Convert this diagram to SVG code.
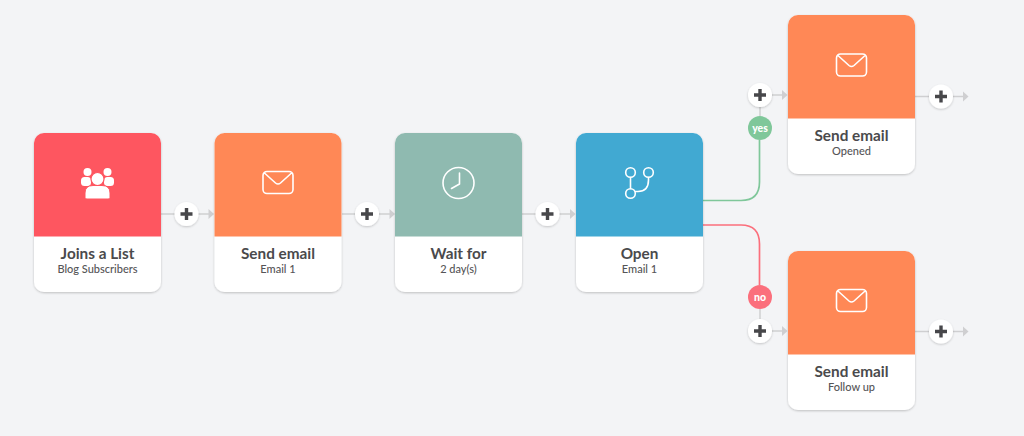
<svg xmlns="http://www.w3.org/2000/svg" width="1024" height="436" viewBox="0 0 1024 436">
<style>
.bg{fill:#f3f4f6}
.card{fill:#fff;filter:url(#sh)}
.t{font-family:Lato,"Liberation Sans",sans-serif;text-anchor:middle;fill:#4a4a4c}
.title{font-size:15.300px;font-weight:700}
.sub{font-size:11px;font-weight:500;fill:#555557}
.ic{fill:none;stroke:#fff;stroke-width:1.600;stroke-linecap:round;stroke-linejoin:round}
.lnk{fill:none;stroke:#cfcfd1;stroke-width:1.500}
.pc{fill:#fff;filter:url(#sh2)}
.pl{stroke:#47474a;stroke-width:3.400;fill:none}
.badge{font-family:Lato,"Liberation Sans",sans-serif;font-size:10.500px;font-weight:900;fill:#fff;text-anchor:middle}
</style>
<defs>
<filter id="sh" x="-10%" y="-10%" width="120%" height="120%"><feDropShadow dx="0" dy="1" stdDeviation="1.300" flood-color="#000" flood-opacity=".22"/></filter>
<filter id="sh2" x="-30%" y="-30%" width="160%" height="160%"><feDropShadow dx="0" dy="1" stdDeviation="1.300" flood-color="#000" flood-opacity=".2"/></filter>
<path id="top" d="M0 103.500V10A10 10 0 0 1 10 0H117A10 10 0 0 1 127 10V103.500Z"/>
<path id="env" class="ic" d="M5 0H27A4 4 0 0 1 31 4V18A4 4 0 0 1 27 22H5A4 4 0 0 1 1 18V4A4 4 0 0 1 5 0ZM3 2L13.500 11.500Q16 13.500 18.500 11.500L29 2"/>
<g id="plus"><circle class="pc" r="12"/><path class="pl" d="M-6 0H6M0-6V6"/></g>
<path id="head" fill="#cfcfd1" d="M0-5L5.500 0L0 5Z"/>
</defs>
<rect class="bg" width="1024" height="436"/>
<g id="connectors">
<path class="lnk" d="M161 214H210M342 214H391M522 214H572M772 95H783M760 107V116M760 309V319M915 96.500H964M915 331.500H964M772 331H783"/>
<use href="#head" x="208.500" y="214"/><use href="#head" x="389.500" y="214"/><use href="#head" x="570" y="214"/>
<use href="#head" x="782" y="95"/><use href="#head" x="963" y="96.500"/><use href="#head" x="782" y="331"/><use href="#head" x="963" y="331.500"/>
<path fill="none" stroke="#7fc79a" stroke-width="1.700" d="M703 200.500H741Q759.500 200.500 759.500 182V140"/>
<path fill="none" stroke="#fb6f7c" stroke-width="1.700" d="M703 225H741Q759.500 225 759.500 244V285"/>
</g>
<g id="node-list">
<rect class="card" x="34" y="133" width="127" height="159" rx="10"/>
<use href="#top" x="34" y="133" fill="#fe5660"/>
<g fill="#fff"><circle cx="87.500" cy="172" r="4"/><circle cx="107.500" cy="172" r="4"/><rect x="81" y="177" width="10" height="9" rx="3.500"/><rect x="104" y="177" width="10" height="9" rx="3.500"/>
<circle cx="97.500" cy="179" r="6.500" stroke="#fe5660" stroke-width="1.200"/><path stroke="#fe5660" stroke-width="1" d="M85 198V193Q85 185.500 93 185.500H102Q110 185.500 110 193V198Q110 199 108 199H87Q85 199 85 198Z"/></g>
<text class="t title" x="97.500" y="259">Joins a List</text><text class="t sub" x="97.500" y="273">Blog Subscribers</text>
</g>
<g id="node-email1">
<rect class="card" x="214.500" y="133" width="127" height="159" rx="10"/>
<use href="#top" x="214.500" y="133" fill="#ff8856"/>
<use href="#env" x="262" y="171.500"/>
<text class="t title" x="278" y="259">Send email</text><text class="t sub" x="278" y="273">Email 1</text>
</g>
<g id="node-wait">
<rect class="card" x="395" y="133" width="127" height="159" rx="10"/>
<use href="#top" x="395" y="133" fill="#8fbab0"/>
<g class="ic"><circle cx="458.500" cy="183" r="15.500"/><path d="M459.500 173V184L451.500 188.500"/></g>
<text class="t title" x="458.500" y="259">Wait for</text><text class="t sub" x="458.500" y="273">2 day(s)</text>
</g>
<g id="node-open">
<rect class="card" x="576" y="133" width="127" height="159" rx="10"/>
<use href="#top" x="576" y="133" fill="#41a9d2"/>
<g class="ic"><circle cx="630.500" cy="172.500" r="4.800"/><circle cx="648.500" cy="172.500" r="4.800"/><circle cx="630.500" cy="193.500" r="4.800"/><path d="M630.500 177.500V188.500M635.500 191.500H638Q648.500 191.500 648.500 180V177.500"/></g>
<text class="t title" x="639.500" y="259">Open</text><text class="t sub" x="639.500" y="273">Email 1</text>
</g>
<g id="node-opened">
<rect class="card" x="788" y="15" width="127" height="159" rx="10"/>
<use href="#top" x="788" y="15" fill="#ff8856"/>
<use href="#env" x="835.500" y="54"/>
<text class="t title" x="851.500" y="141">Send email</text><text class="t sub" x="851.500" y="155">Opened</text>
</g>
<g id="node-followup">
<rect class="card" x="788" y="251" width="127" height="159" rx="10"/>
<use href="#top" x="788" y="251" fill="#ff8856"/>
<use href="#env" x="835.500" y="289.500"/>
<text class="t title" x="851.500" y="376.500">Send email</text><text class="t sub" x="851.500" y="391">Follow up</text>
</g>
<g id="add-1"><use href="#plus" x="186.500" y="214"/></g>
<g id="add-2"><use href="#plus" x="367" y="214"/></g>
<g id="add-3"><use href="#plus" x="547.500" y="214"/></g>
<g id="add-yes"><use href="#plus" x="760" y="95"/></g>
<g id="add-no"><use href="#plus" x="760" y="331"/></g>
<g id="add-opened"><use href="#plus" x="941" y="96.500"/></g>
<g id="add-followup"><use href="#plus" x="941" y="331.500"/></g>
<g id="badge-yes"><circle cx="760" cy="128" r="12" fill="#7fc79a"/><text class="badge" x="760" y="131.500">yes</text></g>
<g id="badge-no"><circle cx="760" cy="297" r="12" fill="#fb6f7c"/><text class="badge" x="760" y="300.500">no</text></g>
</svg>
